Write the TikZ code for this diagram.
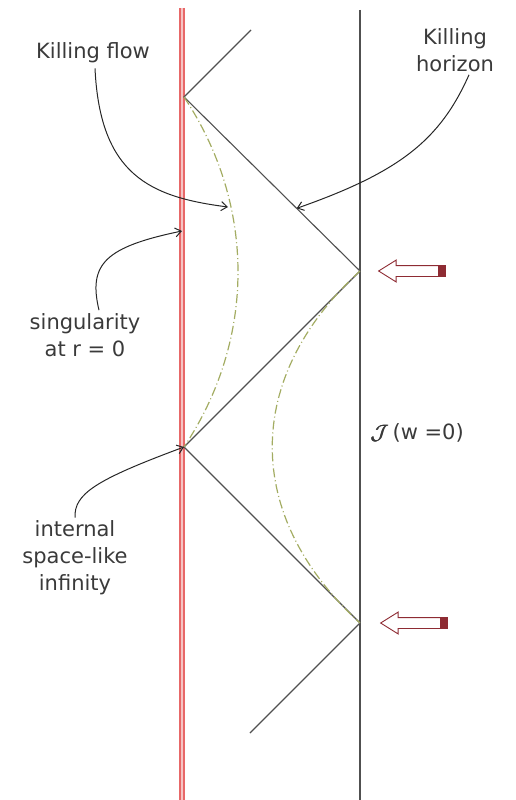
\documentclass[tikz,border=0pt]{standalone}
\usepackage{amsmath}
\usepackage{fontspec}
\setmainfont{DejaVu Sans}
\usepackage{tikz}
\usetikzlibrary{calc,positioning,shapes.arrows,arrows.meta}
\definecolor{SingRed}{HTML}{E86868}
\definecolor{SingPale}{HTML}{F6C4C4}
\definecolor{FlowOlive}{HTML}{A3AC62}
\definecolor{PinRed}{HTML}{8E2B33}
\definecolor{ConeGrey}{HTML}{505050}
\definecolor{LabelInk}{HTML}{3A3A3A}

\begin{document}
\begin{tikzpicture}[
  x=1pt,y=-1pt,
  label/.style={text=LabelInk,align=center,inner sep=1pt,
    font=\fontsize{21}{27}\selectfont},
  cone/.style={draw=ConeGrey,line width=1.1pt},
  flow/.style={draw=FlowOlive,line width=1.2pt,
    dash pattern=on 9pt off 3pt on 1pt off 3pt},
  pointer/.style={-{Straight Barb[length=6pt,width=9pt]},draw=black!85,
    line width=1pt},
  inflow/.style={single arrow,draw=PinRed,fill=white,line width=.9pt,
    shape border rotate=180,minimum height=62pt,minimum width=21pt,
    single arrow head extend=5.5pt,single arrow tip angle=64,inner sep=5pt},
  pincap/.style={draw=PinRed,fill=PinRed,minimum width=7pt,
    minimum height=11pt,inner sep=0pt}
]
\useasboundingbox (0,0) rectangle (516,800);
\coordinate (top) at (251,30);
\coordinate (s1) at (184,97);
\coordinate (h1) at (360,271);
\coordinate (s2) at (184,447);
\coordinate (h2) at (360,623);
\coordinate (bot) at (250,733);
\draw[draw=SingRed,double=SingPale,double distance=2.2pt,line width=1.6pt]
  (182,8) -- (182,800);
\draw[draw=ConeGrey,line width=1.5pt] (360,10) -- (360,800);
\draw[cone] (top) -- (s1) -- (h1) -- (s2) -- (h2) -- (bot);
\draw[flow] (s1) .. controls (256,205) and (256,339) .. (s2);
\draw[flow] (h1) .. controls (243,378) and (243,516) .. (h2);
\node[inflow] (pin1) at (414,271) {};
\node[pincap] at ($(pin1.tail)+(1,0)$) {};
\node[inflow] (pin2) at (416,623) {};
\node[pincap] at ($(pin2.tail)+(1,0)$) {};
\node[label] (flowlbl) at (93,53) {Killing flow};
\node[label] (horlbl) at (455,50) {Killing\\horizon};
\node[label] (singlbl) at (85,335) {singularity\\at r = 0};
\node[label] (inflbl) at (75,558) {internal\\space-like\\infinity};
\node[label,anchor=west] (scri) at (370,433) {$\pmb{\mathcal{J}}$\,(w =0)};
\coordinate (flowtip) at (228,207);
\coordinate (hortip) at ($(s1)!0.64!(h1)$);
\coordinate (singtip) at (182,231);
\draw[pointer] ($(flowlbl.south)+(2,4)$) .. controls (100,175) and (150,197) .. (flowtip);
\draw[pointer] ($(horlbl.south)+(14,2)$) .. controls (440,140) and (400,172) .. (hortip);
\draw[pointer] ($(singlbl.north)+(14,-2)$) .. controls (88,264) and (105,247) .. (singtip);
\draw[pointer] ($(inflbl.north)+(0,-2)$) .. controls (74,494) and (95,480) .. (s2);
\end{tikzpicture}
\end{document}
